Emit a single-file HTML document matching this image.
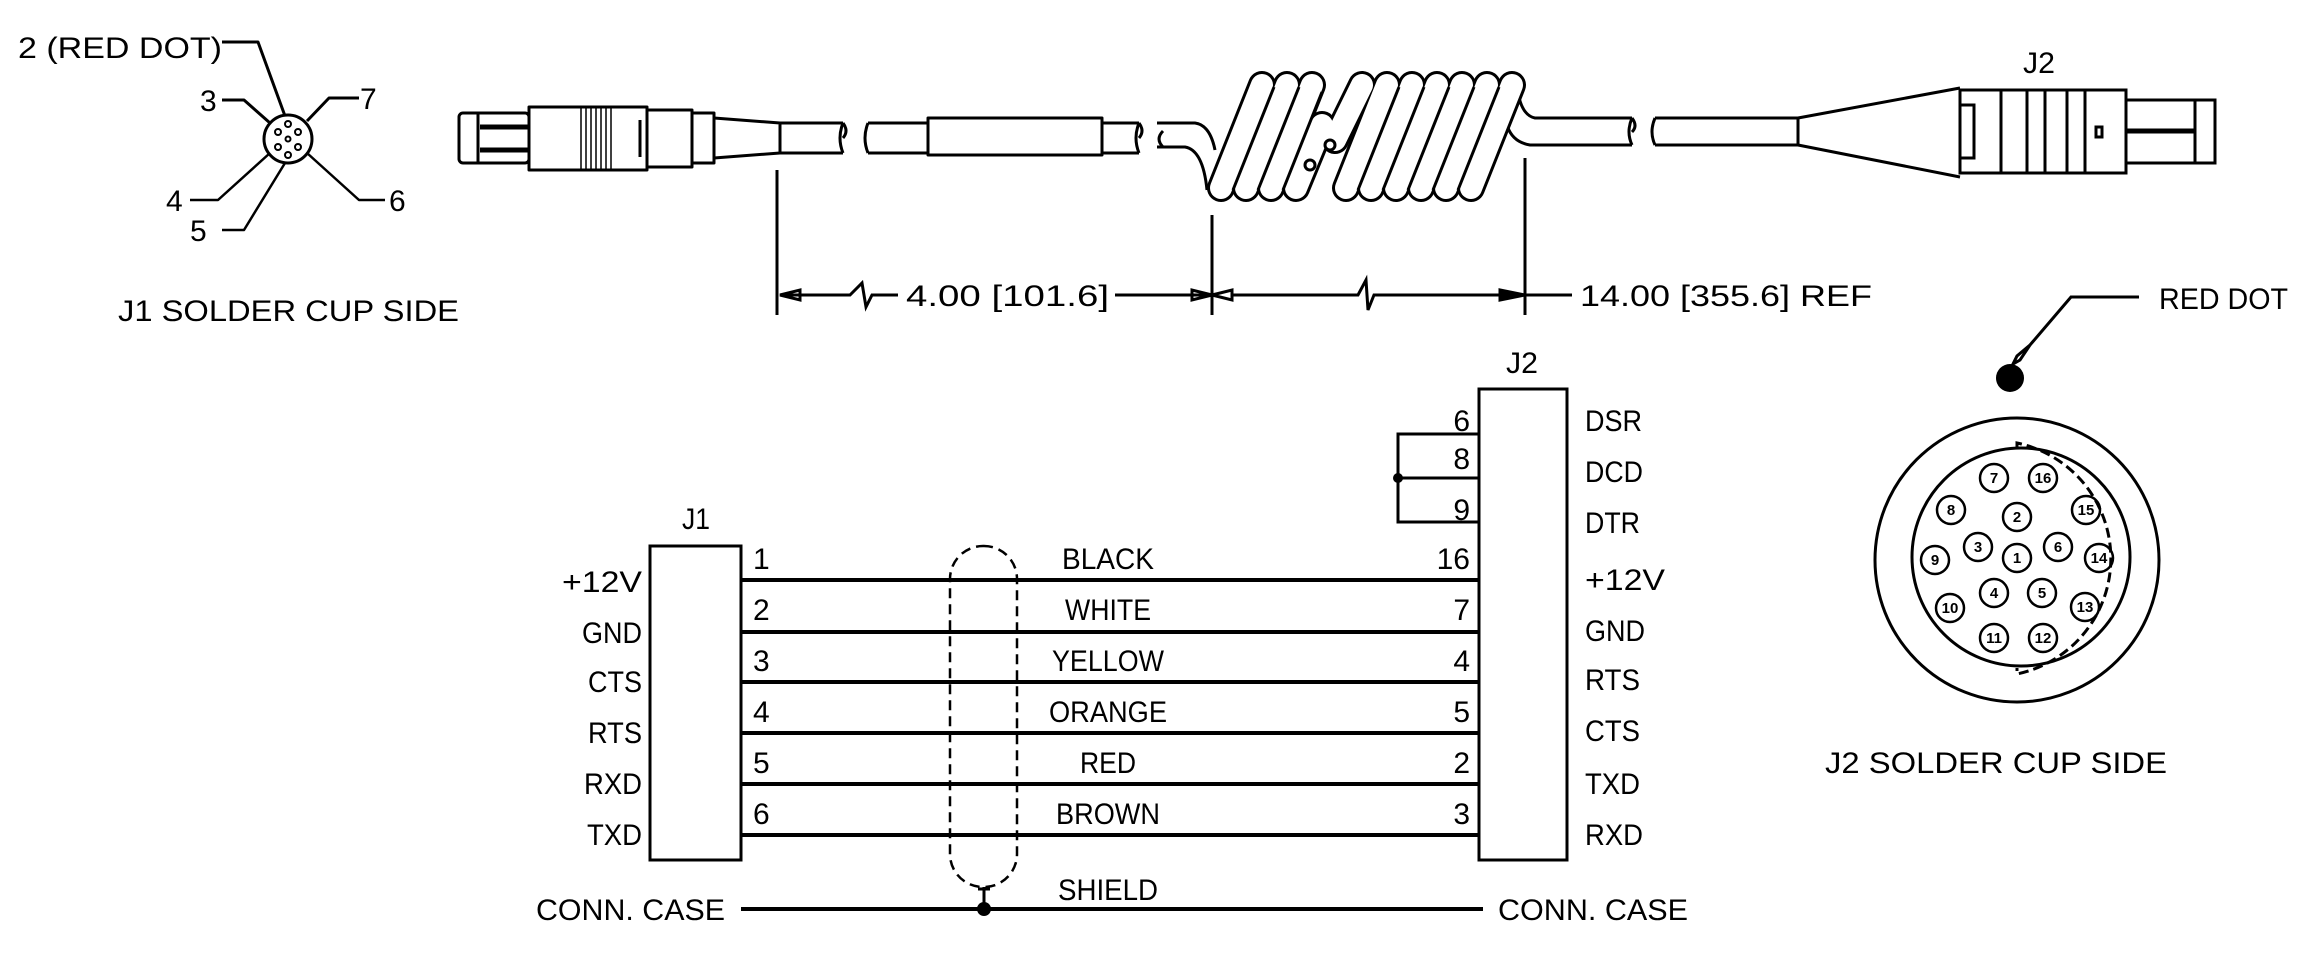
<!DOCTYPE html>
<html><head><meta charset="utf-8"><style>
html,body{margin:0;padding:0;background:#fff;}
svg{display:block;}
text{font-family:"Liberation Sans",sans-serif;fill:#000;}
</style></head><body>
<svg width="2316" height="955" viewBox="0 0 2316 955" xmlns="http://www.w3.org/2000/svg">
<g fill="none" stroke="#000" stroke-width="3" stroke-linejoin="round">
<!-- J1 face -->
<circle cx="288" cy="139" r="24"/>
<g stroke-width="2"><circle cx="288" cy="124" r="3"/><circle cx="278" cy="132" r="3"/><circle cx="298" cy="132" r="3"/><circle cx="288" cy="139" r="2.5"/><circle cx="278" cy="147" r="3"/><circle cx="298" cy="147" r="3"/><circle cx="288" cy="155" r="3"/></g>
<polyline points="222,42 258,42 285,116"/>
<polyline points="222,100 244,100 270,123"/>
<polyline points="359,98 329,98 307,121"/>
<polyline points="190,200 218,200 270,153" stroke-width="2.5"/>
<polyline points="222,230 244,230 285,163" stroke-width="2.5"/>
<polyline points="385,200 359,200 307,153" stroke-width="2.5"/>

<!-- J1 plug -->
<rect x="459" y="113" width="70" height="50" rx="4"/>
<line x1="478" y1="113" x2="478" y2="163"/>
<line x1="480" y1="127" x2="529" y2="127" stroke-width="5"/>
<line x1="480" y1="150" x2="529" y2="150" stroke-width="5"/>
<rect x="529" y="107" width="118" height="63"/>
<g stroke-width="1.5"><line x1="581" y1="107" x2="581" y2="170"/><line x1="586" y1="107" x2="586" y2="170"/><line x1="591" y1="107" x2="591" y2="170"/><line x1="596" y1="107" x2="596" y2="170"/><line x1="601" y1="107" x2="601" y2="170"/><line x1="606" y1="107" x2="606" y2="170"/><line x1="611" y1="107" x2="611" y2="170"/></g>
<rect x="647" y="110" width="45" height="57"/>
<line x1="640" y1="120" x2="640" y2="157"/>
<rect x="692" y="113" width="22" height="50"/>
<path d="M714,118 L780,123 L780,153 L714,158"/>
<path d="M780,123 L843,123 M780,153 L843,153"/>
<path d="M843,123 q-6,15 0,30 M843,123 q6,8 0,15"/>
<path d="M868,123 q-6,15 0,30 M868,123 L928,123 M868,153 L928,153"/>
<rect x="928" y="118" width="174" height="37"/>
<path d="M1102,123 L1139,123 M1102,153 L1139,153 M1139,123 q-6,15 0,30 M1139,123 q6,8 0,15"/>
<path d="M1163,131 q-8,8 0,16"/>
<!-- coil entry -->
<path d="M1157,123 L1195,123 Q1210,125 1215,150 M1157,147 L1185,147 Q1203,150 1207,190"/>
<!-- coil right exit -->
<path d="M1517,85 Q1520,115 1535,118 L1632,118 M1507,125 Q1512,142 1530,145 L1632,145"/>
<path d="M1632,118 q-6,14 0,27 M1632,118 q6,8 0,14"/>
<path d="M1655,118 q-6,14 0,27 M1655,118 L1798,118 M1655,145 L1798,145"/>
</g>
<!-- coil capsules -->
<g stroke-linecap="round" fill="none">
<g stroke="#000" stroke-width="28">
<line x1="1221" y1="188" x2="1262" y2="85"/><line x1="1246" y1="188" x2="1287" y2="85"/><line x1="1271" y1="188" x2="1312" y2="85"/><line x1="1296" y1="188" x2="1322" y2="125"/>
<line x1="1346" y1="188" x2="1387" y2="85"/><line x1="1371" y1="188" x2="1412" y2="85"/><line x1="1396" y1="188" x2="1437" y2="85"/><line x1="1421" y1="188" x2="1462" y2="85"/><line x1="1446" y1="188" x2="1487" y2="85"/><line x1="1471" y1="188" x2="1512" y2="85"/>
<line x1="1335" y1="140" x2="1362" y2="85"/>
</g>
</g>
<g stroke-linecap="round" fill="none" stroke="#fff" stroke-width="22">
<line x1="1221" y1="188" x2="1262" y2="85"/><line x1="1246" y1="188" x2="1287" y2="85"/><line x1="1271" y1="188" x2="1312" y2="85"/><line x1="1296" y1="188" x2="1322" y2="125"/>
<line x1="1335" y1="140" x2="1362" y2="85"/>
<line x1="1346" y1="188" x2="1387" y2="85"/><line x1="1371" y1="188" x2="1412" y2="85"/><line x1="1396" y1="188" x2="1437" y2="85"/><line x1="1421" y1="188" x2="1462" y2="85"/><line x1="1446" y1="188" x2="1487" y2="85"/><line x1="1471" y1="188" x2="1512" y2="85"/>
</g>
<g fill="none" stroke="#000" stroke-width="3">
<line x1="1233" y1="190" x2="1274" y2="87"/><line x1="1258" y1="190" x2="1299" y2="87"/><line x1="1283" y1="190" x2="1322" y2="92"/>
<line x1="1358" y1="190" x2="1399" y2="87"/><line x1="1383" y1="190" x2="1424" y2="87"/><line x1="1408" y1="190" x2="1449" y2="87"/><line x1="1433" y1="190" x2="1474" y2="87"/><line x1="1458" y1="190" x2="1499" y2="87"/>
<circle cx="1310" cy="165" r="5"/><circle cx="1330" cy="145" r="5"/>

<!-- J2 plug -->
<path d="M1798,118 L1960,88 M1798,145 L1960,177"/>
<line x1="1798" y1="118" x2="1798" y2="145"/>
<rect x="1960" y="90" width="166" height="83"/>
<rect x="1960" y="105" width="14" height="53"/>
<line x1="2001" y1="90" x2="2001" y2="173"/><line x1="2027" y1="90" x2="2027" y2="173"/><line x1="2045" y1="90" x2="2045" y2="173"/><line x1="2067" y1="90" x2="2067" y2="173"/><line x1="2085" y1="90" x2="2085" y2="173"/>
<rect x="2096" y="127" width="6" height="10"/>
<rect x="2126" y="100" width="89" height="63"/>
<line x1="2195" y1="100" x2="2195" y2="163"/>
<line x1="2126" y1="131" x2="2195" y2="131" stroke-width="5"/>

<!-- dimension lines -->
<line x1="777" y1="170" x2="777" y2="315"/>
<line x1="1212" y1="215" x2="1212" y2="315"/>
<line x1="1525" y1="158" x2="1525" y2="315"/>
<path d="M780,295 L850,295 L862,283 L866,307 L872,295 L898,295"/>
<path d="M780,295 L800,290 L800,300 Z"/>
<line x1="1115" y1="295" x2="1212" y2="295"/>
<path d="M1212,295 L1192,290 L1192,300 Z M1212,295 L1232,290 L1232,300 Z"/>
<path d="M1232,295 L1358,295 L1366,280 L1368,310 L1374,295 L1525,295 L1572,295"/>
<path d="M1525,295 L1500,290 L1500,300 Z" fill="#000"/>

<!-- red dot leader -->
<polyline points="2139,297 2071,297 2030,345"/>
<path d="M2030,345 L2020,360 L2013,364 L2017,356 Z"/>
</g>
<circle cx="2010" cy="378" r="14" fill="#000"/>

<!-- J2 face -->
<g fill="none" stroke="#000" stroke-width="3">
<circle cx="2017" cy="560" r="142"/>
<circle cx="2021" cy="557" r="109"/>
<path d="M2017,448 L2017,443 A118,118 0 0 1 2017,674 L2017,668" stroke-dasharray="10,5"/>
<g stroke-width="2.5">
<circle cx="1994" cy="478" r="14"/><circle cx="2043" cy="478" r="14"/><circle cx="1951" cy="510" r="14"/><circle cx="2017" cy="517" r="14"/><circle cx="2086" cy="510" r="14"/><circle cx="1978" cy="547" r="14"/><circle cx="2058" cy="547" r="14"/><circle cx="2017" cy="558" r="14"/><circle cx="1935" cy="560" r="14"/><circle cx="2099" cy="558" r="14"/><circle cx="1994" cy="593" r="14"/><circle cx="2042" cy="593" r="14"/><circle cx="1950" cy="608" r="14"/><circle cx="2085" cy="607" r="14"/><circle cx="1994" cy="638" r="14"/><circle cx="2043" cy="638" r="14"/>
</g>
</g>
<g font-size="15" font-weight="bold" text-anchor="middle">
<text x="1994" y="483">7</text><text x="2043" y="483">16</text><text x="1951" y="515">8</text><text x="2017" y="522">2</text><text x="2086" y="515">15</text><text x="1978" y="552">3</text><text x="2058" y="552">6</text><text x="2017" y="563">1</text><text x="1935" y="565">9</text><text x="2099" y="563">14</text><text x="1994" y="598">4</text><text x="2042" y="598">5</text><text x="1950" y="613">10</text><text x="2085" y="612">13</text><text x="1994" y="643">11</text><text x="2043" y="643">12</text>
</g>

<!-- schematic -->
<g fill="none" stroke="#000" stroke-width="3">
<rect x="650" y="546" width="91" height="314"/>
<rect x="1479" y="389" width="88" height="471"/>
<g stroke-width="4">
<line x1="741" y1="580" x2="1479" y2="580"/><line x1="741" y1="632" x2="1479" y2="632"/><line x1="741" y1="682" x2="1479" y2="682"/><line x1="741" y1="733" x2="1479" y2="733"/><line x1="741" y1="784" x2="1479" y2="784"/><line x1="741" y1="835" x2="1479" y2="835"/>
<line x1="741" y1="909" x2="1483" y2="909"/>
</g>
<polyline points="1479,434 1398,434 1398,522 1479,522"/>
<line x1="1398" y1="478" x2="1479" y2="478"/>
<rect x="950" y="546" width="67" height="341" rx="33" stroke-dasharray="10,6" stroke-width="2.5"/>
<line x1="984" y1="887" x2="984" y2="909"/>
<line x1="978" y1="889" x2="990" y2="889"/>
</g>
<circle cx="1398" cy="478" r="5" fill="#000"/>
<circle cx="984" cy="909" r="7" fill="#000"/>

<g font-size="30">
<text x="18" y="58" textLength="204" lengthAdjust="spacingAndGlyphs">2 (RED DOT)</text>
<text x="200" y="111">3</text>
<text x="360" y="109">7</text>
<text x="166" y="211">4</text>
<text x="190" y="241">5</text>
<text x="389" y="211">6</text>
<text x="118" y="321" textLength="341" lengthAdjust="spacingAndGlyphs">J1 SOLDER CUP SIDE</text>
<text x="906" y="306" textLength="203" lengthAdjust="spacingAndGlyphs">4.00 [101.6]</text>
<text x="1580" y="306" textLength="292" lengthAdjust="spacingAndGlyphs">14.00 [355.6] REF</text>
<text x="2023" y="73" textLength="32" lengthAdjust="spacingAndGlyphs">J2</text>
<text x="2159" y="309" textLength="129" lengthAdjust="spacingAndGlyphs">RED DOT</text>
<text x="1825" y="773" textLength="342" lengthAdjust="spacingAndGlyphs">J2 SOLDER CUP SIDE</text>

<text x="682" y="529" textLength="28" lengthAdjust="spacingAndGlyphs">J1</text>
<text x="1506" y="373" textLength="32" lengthAdjust="spacingAndGlyphs">J2</text>
<g text-anchor="end">
<text x="642" y="592" textLength="80" lengthAdjust="spacingAndGlyphs">+12V</text>
<text x="642" y="643" textLength="60" lengthAdjust="spacingAndGlyphs">GND</text>
<text x="642" y="692" textLength="54" lengthAdjust="spacingAndGlyphs">CTS</text>
<text x="642" y="743" textLength="54" lengthAdjust="spacingAndGlyphs">RTS</text>
<text x="642" y="794" textLength="58" lengthAdjust="spacingAndGlyphs">RXD</text>
<text x="642" y="845" textLength="55" lengthAdjust="spacingAndGlyphs">TXD</text>
<text x="1470" y="431">6</text>
<text x="1470" y="469">8</text>
<text x="1470" y="520">9</text>
<text x="1470" y="569">16</text>
<text x="1470" y="620">7</text>
<text x="1470" y="671">4</text>
<text x="1470" y="722">5</text>
<text x="1470" y="773">2</text>
<text x="1470" y="824">3</text>
</g>
<text x="753" y="569">1</text>
<text x="753" y="620">2</text>
<text x="753" y="671">3</text>
<text x="753" y="722">4</text>
<text x="753" y="773">5</text>
<text x="753" y="824">6</text>
<g text-anchor="middle">
<text x="1108" y="569" textLength="92" lengthAdjust="spacingAndGlyphs">BLACK</text>
<text x="1108" y="620" textLength="86" lengthAdjust="spacingAndGlyphs">WHITE</text>
<text x="1108" y="671" textLength="112" lengthAdjust="spacingAndGlyphs">YELLOW</text>
<text x="1108" y="722" textLength="118" lengthAdjust="spacingAndGlyphs">ORANGE</text>
<text x="1108" y="773" textLength="56" lengthAdjust="spacingAndGlyphs">RED</text>
<text x="1108" y="824" textLength="104" lengthAdjust="spacingAndGlyphs">BROWN</text>
<text x="1108" y="900" textLength="100" lengthAdjust="spacingAndGlyphs">SHIELD</text>
</g>
<text x="1585" y="431" textLength="57" lengthAdjust="spacingAndGlyphs">DSR</text>
<text x="1585" y="482" textLength="58" lengthAdjust="spacingAndGlyphs">DCD</text>
<text x="1585" y="533" textLength="55" lengthAdjust="spacingAndGlyphs">DTR</text>
<text x="1585" y="590" textLength="80" lengthAdjust="spacingAndGlyphs">+12V</text>
<text x="1585" y="641" textLength="60" lengthAdjust="spacingAndGlyphs">GND</text>
<text x="1585" y="690" textLength="55" lengthAdjust="spacingAndGlyphs">RTS</text>
<text x="1585" y="741" textLength="55" lengthAdjust="spacingAndGlyphs">CTS</text>
<text x="1585" y="794" textLength="55" lengthAdjust="spacingAndGlyphs">TXD</text>
<text x="1585" y="845" textLength="58" lengthAdjust="spacingAndGlyphs">RXD</text>
<text x="536" y="920" textLength="189" lengthAdjust="spacingAndGlyphs">CONN. CASE</text>
<text x="1498" y="920" textLength="190" lengthAdjust="spacingAndGlyphs">CONN. CASE</text>
</g>
</svg>
</body></html>
